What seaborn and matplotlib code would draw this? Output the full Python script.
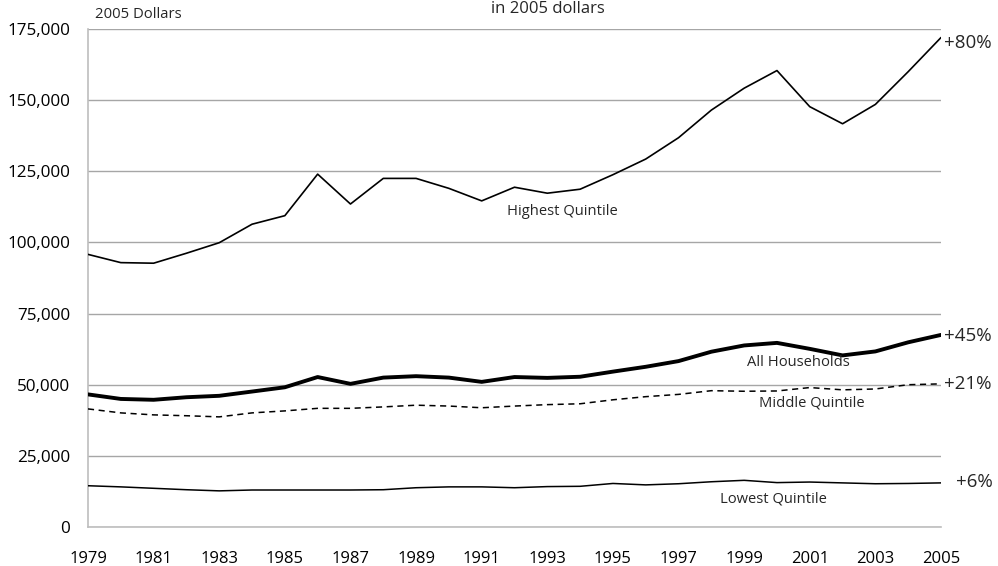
import pandas as pd
import seaborn as sns
import matplotlib.pyplot as plt
from matplotlib.ticker import FuncFormatter, MultipleLocator

# Mean household income by quintile, 2005 dollars
years = list(range(1979, 2006))

highest = [95800, 92900, 92700, 96200, 99900, 106400, 109400, 124000, 113500, 122500,
           122500, 119000, 114600, 119400, 117300, 118700, 123800, 129300, 136800, 146500,
           154200, 160400, 147700, 141700, 148500, 160000, 172000]
all_households = [46600, 45000, 44700, 45600, 46100, 47600, 49100, 52700, 50300, 52500,
                  53000, 52500, 51000, 52700, 52400, 52800, 54600, 56300, 58300, 61600,
                  63800, 64700, 62600, 60300, 61700, 64900, 67500]
middle = [41500, 40100, 39400, 39100, 38700, 40100, 40800, 41700, 41700, 42200,
          42800, 42500, 41900, 42500, 43000, 43300, 44700, 45800, 46600, 47900,
          47700, 47800, 49000, 48200, 48500, 50000, 50300]
lowest = [14500, 14100, 13600, 13100, 12700, 13000, 13000, 13000, 13000, 13100,
          13800, 14100, 14100, 13800, 14200, 14300, 15300, 14800, 15200, 15900,
          16400, 15600, 15800, 15500, 15200, 15300, 15500]

series_labels = ['Highest Quintile', 'All Households', 'Middle Quintile', 'Lowest Quintile']
pct_labels = ['+80%', '+45%', '+21%', '+6%']

df = pd.DataFrame({
    'Year': years * 4,
    'Income': highest + all_households + middle + lowest,
    'Group': [g for g in series_labels for _ in years],
})

sns.set_style('white')
plt.rcParams['font.family'] = ['Open Sans', 'DejaVu Sans']

fig = plt.figure(figsize=(9.98, 5.66), dpi=100)
ax = fig.add_axes([88 / 998, 39 / 566, 853 / 998, 498 / 566])

widths = {'Highest Quintile': 1.2, 'All Households': 2.8,
          'Middle Quintile': 1.1, 'Lowest Quintile': 1.1}
dashes = {'Highest Quintile': '-', 'All Households': '-',
          'Middle Quintile': (0, (4, 3)), 'Lowest Quintile': '-'}

for g in series_labels:
    sns.lineplot(data=df[df['Group'] == g], x='Year', y='Income', color='black',
                 linewidth=widths[g], linestyle=dashes[g], ax=ax, zorder=3)

ax.set_xlim(1979, 2005)
ax.set_ylim(0, 175000)
ax.yaxis.set_major_locator(MultipleLocator(25000))
ax.yaxis.set_major_formatter(FuncFormatter(lambda v, p: f'{int(v):,}'))
ax.set_xticks(range(1979, 2006, 2))
ax.set_xticks(range(1979, 2006), minor=True)
ax.set_xlabel('')
ax.set_ylabel('')

ax.grid(axis='y', color='#a6a6a6', linewidth=1.0)
ax.grid(axis='x', visible=False)
for s in ['top', 'right']:
    ax.spines[s].set_visible(False)
for s in ['left', 'bottom']:
    ax.spines[s].set_color('#bdbdbd')
    ax.spines[s].set_linewidth(1.2)

ax.tick_params(axis='y', length=0, labelsize=12.3, pad=13, colors='black')
ax.tick_params(axis='x', which='both', direction='in', length=4.3, width=1,
               color='#bdbdbd', labelsize=12, pad=17)
ax.tick_params(axis='x', which='major', labelcolor='black')

# series labels
ax.text(1993.45, 111000, 'Highest Quintile', fontsize=10.6, ha='center', va='center')
ax.text(2000.65, 57800, 'All Households', fontsize=10.6, ha='center', va='center')
ax.text(2001.05, 43700, 'Middle Quintile', fontsize=10.6, ha='center', va='center')
ax.text(1999.9, 9800, 'Lowest Quintile', fontsize=10.6, ha='center', va='center')

# percent change labels at the line ends
ends = [highest[-1] - 1800, all_households[-1] - 300, middle[-1], lowest[-1] + 300]
offsets = [2, 2, 2, 11]
for lab, v, off in zip(pct_labels, ends, offsets):
    ax.annotate(lab, xy=(2005, v), xytext=(off, 0), textcoords='offset points',
                fontsize=13.5, ha='left', va='center', annotation_clip=False)

fig.text(95 / 998, 1 - 15 / 566, '2005 Dollars', fontsize=10.7, ha='left', va='center')
fig.text(548 / 998, 1 - 13 / 566, 'in 2005 dollars', fontsize=12, ha='center', va='baseline')

fig.savefig('out.png', dpi=100)
